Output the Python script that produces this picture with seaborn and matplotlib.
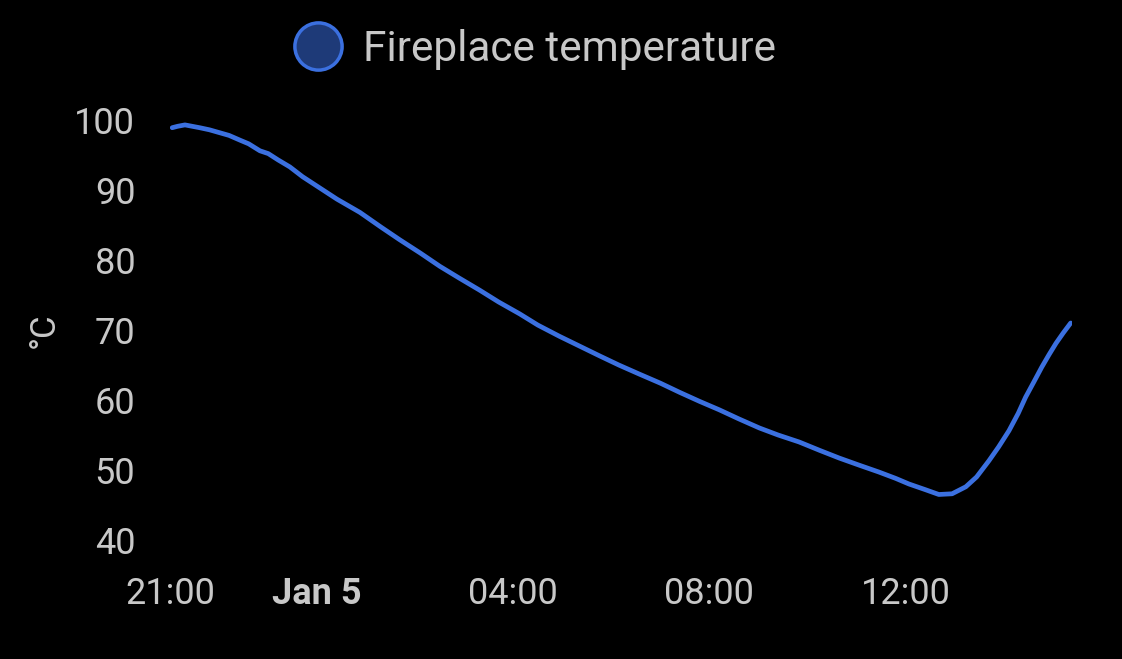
import matplotlib
matplotlib.use("Agg")
import matplotlib.pyplot as plt
from matplotlib.lines import Line2D
import seaborn as sns
import pandas as pd
import numpy as np

# Hours after 2025-01-04 21:00 and fireplace temperature in °C
hours = [0.04, 0.15, 0.3, 0.45, 0.6, 0.8, 1.0, 1.2, 1.43, 1.6, 1.83, 2.0, 2.2, 2.44,
         2.7, 3.05, 3.4, 3.87, 4.3, 4.68, 5.1, 5.5, 5.9, 6.31, 6.7, 7.13, 7.5, 7.94,
         8.35, 8.76, 9.15, 9.57, 10.0, 10.39, 10.8, 11.2, 11.6, 12.02, 12.4, 12.83,
         13.25, 13.65, 14.05, 14.46, 14.8, 15.07, 15.4, 15.68, 15.95, 16.23, 16.45,
         16.70, 16.9, 17.11, 17.3, 17.45, 17.62, 17.78, 17.93, 18.07, 18.22, 18.37]
temps = [98.9, 99.1, 99.3, 99.1, 98.9, 98.6, 98.2, 97.8, 97.1, 96.6, 95.6, 95.2, 94.3, 93.3,
         91.9, 90.3, 88.7, 86.8, 84.7, 82.9, 81.0, 79.1, 77.4, 75.7, 74.0, 72.3, 70.7, 69.1,
         67.7, 66.3, 65.0, 63.7, 62.4, 61.1, 59.8, 58.6, 57.3, 56.0, 55.0, 54.0,
         52.8, 51.7, 50.7, 49.7, 48.8, 48.0, 47.2, 46.5, 46.6, 47.6, 49.0,
         51.3, 53.3, 55.6, 58.1, 60.4, 62.6, 64.7, 66.5, 68.1, 69.6, 71.0]

tick_hours = [0, 3, 7, 11, 15]
tick_labels = ["21:00", "Jan 5", "04:00", "08:00", "12:00"]
y_ticks = [40, 50, 60, 70, 80, 90, 100]
series_name = "Fireplace temperature"

base = pd.Timestamp("2025-01-04 21:00")
df = pd.DataFrame({
    "time": [base + pd.Timedelta(hours=h) for h in hours],
    "temp": temps,
})

sns.set_style("dark")
plt.rcParams["font.family"] = ["Roboto", "DejaVu Sans"]

line_color = "#3b70e0"
text_color = "#c8c8c8"

fig = plt.figure(figsize=(11.22, 6.59), dpi=100, facecolor="black")
ax = fig.add_axes([0.1515, 0.1806, 0.8035, 0.6373])
ax.set_facecolor("black")

sns.lineplot(data=df, x="time", y="temp", ax=ax, color=line_color, linewidth=3.4,
             legend=False)

ax.set_xlim(base + pd.Timedelta(hours=-0.005), df["time"].iloc[-1] + pd.Timedelta(minutes=1))
ax.set_ylim(40, 100)

ticks = [base + pd.Timedelta(hours=h) for h in tick_hours]
ax.set_xticks(ticks)
ax.set_xticklabels(tick_labels)
for lbl in ax.get_xticklabels():
    if lbl.get_text() == "Jan 5":
        lbl.set_fontweight("bold")
ax.set_yticks(y_ticks)
ax.set_yticklabels([str(v) for v in y_ticks])

ax.tick_params(axis="both", colors=text_color, labelsize=26, length=0)
ax.tick_params(axis="x", pad=26)
ax.tick_params(axis="y", pad=25)
ax.grid(False)
for s in ax.spines.values():
    s.set_visible(False)

ax.set_xlabel("")
ax.set_ylabel("°C", color=text_color, fontsize=25, labelpad=10)

handle = Line2D([], [], linestyle="none", marker="o", markersize=34,
                markerfacecolor="#1e3a78", markeredgecolor=line_color, markeredgewidth=2.5)
leg = fig.legend([handle], [series_name], loc="center", bbox_to_anchor=(0.476, 0.925),
                 frameon=False, fontsize=30.5, handletextpad=0.45, handlelength=1.2)
for t in leg.get_texts():
    t.set_color(text_color)

fig.savefig("out.png", dpi=100, facecolor="black")
